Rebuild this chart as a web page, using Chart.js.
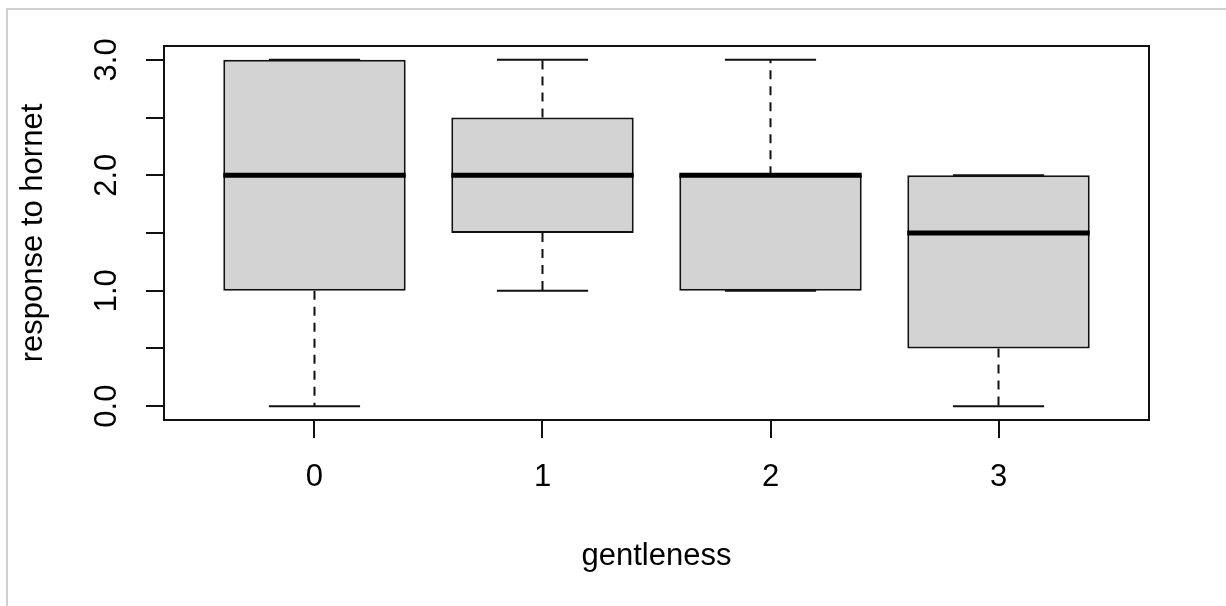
<!DOCTYPE html>
<html>
<head>
<meta charset="utf-8">
<title>response to hornet by gentleness</title>
<script src="https://cdn.jsdelivr.net/npm/chart.js@4.4.1/dist/chart.umd.min.js"></script>
<style>
  html, body { margin: 0; padding: 0; background: #fff; }
  canvas { display: block; }
</style>
</head>
<body>
<canvas id="boxChart" width="1226" height="606"></canvas>
<script>
// boxplot statistics, one entry per gentleness group
const categories = ['0', '1', '2', '3'];
const whiskerLow = [0, 1, 1, 0];
const lowerQuartile = [1, 1.5, 1, 0.5];
const medians = [2, 2, 2, 1.5];
const upperQuartile = [3, 2.5, 2, 2];
const whiskerHigh = [3, 3, 3, 2];

const yTicks = [0, 0.5, 1, 1.5, 2, 2.5, 3];
const yTickLabels = ['0.0', '', '1.0', '', '2.0', '', '3.0'];

(function() {
	'use strict';

	// groups sit at 1..n like R's boxplot, box is 0.8 wide, caps half of that
	const positions = categories.map((c, i) => i + 1);
	const boxHalf = 0.4;
	const capHalf = 0.2;
	const ink = '#111';

	// turn [x1, y1, x2, y2] pairs into one line dataset broken by null points
	function segments(pairs) {
		const pts = [];
		pairs.forEach(p => {
			pts.push({x: p[0], y: p[1]}, {x: p[2], y: p[3]}, {x: p[2], y: null});
		});
		return pts;
	}

	const medianSegs = positions.map((x, i) => [x - boxHalf, medians[i], x + boxHalf, medians[i]]);
	const whiskerSegs = [];
	const capSegs = [];
	positions.forEach((x, i) => {
		whiskerSegs.push([x, lowerQuartile[i], x, whiskerLow[i]]);
		whiskerSegs.push([x, upperQuartile[i], x, whiskerHigh[i]]);
		capSegs.push([x - capHalf, whiskerLow[i], x + capHalf, whiskerLow[i]]);
		capSegs.push([x - capHalf, whiskerHigh[i], x + capHalf, whiskerHigh[i]]);
	});

	const lineBase = {
		type: 'line',
		borderColor: ink,
		borderWidth: 2,
		pointRadius: 0,
		fill: false,
		tension: 0,
		spanGaps: false
	};

	// light frame on the top and left of the picture
	const pageFrame = {
		id: 'pageFrame',
		beforeDraw(chart) {
			const ctx = chart.ctx;
			ctx.save();
			ctx.strokeStyle = '#d0d0d0';
			ctx.lineWidth = 2;
			ctx.beginPath();
			ctx.moveTo(7, chart.height);
			ctx.lineTo(7, 9);
			ctx.lineTo(chart.width, 9);
			ctx.stroke();
			ctx.restore();
		}
	};

	// box round the plot region
	const plotBox = {
		id: 'plotBox',
		afterDatasetsDraw(chart) {
			const a = chart.chartArea;
			const ctx = chart.ctx;
			ctx.save();
			ctx.strokeStyle = ink;
			ctx.lineWidth = 2;
			ctx.strokeRect(a.left, a.top, a.right - a.left, a.bottom - a.top);
			ctx.restore();
		}
	};

	Chart.defaults.font.family = '"Liberation Sans", Arial, sans-serif';
	Chart.defaults.color = '#000';

	const labelFont = {size: 31, lineHeight: 1};

	new Chart(document.getElementById('boxChart'), {
		type: 'bar',
		data: {
			datasets: [
				Object.assign({}, lineBase, {
					label: 'median',
					data: segments(medianSegs),
					borderColor: '#000',
					borderWidth: 5,
					order: 0
				}),
				Object.assign({}, lineBase, {
					label: 'caps',
					data: segments(capSegs),
					order: 1
				}),
				Object.assign({}, lineBase, {
					label: 'whiskers',
					data: segments(whiskerSegs),
					borderDash: [9, 7],
					order: 2
				}),
				{
					type: 'bar',
					label: 'boxes',
					data: positions.map((x, i) => ({x: x, y: [lowerQuartile[i], upperQuartile[i]]})),
					backgroundColor: '#d3d3d3',
					borderColor: ink,
					borderWidth: 2,
					borderSkipped: false,
					categoryPercentage: 1,
					barPercentage: 0.8,
					order: 3
				}
			]
		},
		options: {
			responsive: false,
			animation: false,
			devicePixelRatio: 1,
			layout: {
				padding: {top: 46, right: 77, bottom: 0, left: 0}
			},
			plugins: {
				legend: {display: false},
				tooltip: {enabled: false}
			},
			scales: {
				x: {
					type: 'linear',
					min: 0.34,
					max: 4.66,
					bounds: 'data',
					offset: false,
					afterBuildTicks: function(scale) {
						scale.ticks = positions.map(v => ({value: v}));
					},
					afterFit: function(scale) {
						scale.height = 186;
					},
					ticks: {
						autoSkip: false,
						maxRotation: 0,
						padding: 24,
						font: labelFont,
						callback: function(value, index) {
							return categories[index];
						}
					},
					grid: {
						offset: false,
						drawOnChartArea: false,
						tickLength: 18,
						color: ink,
						lineWidth: 2
					},
					border: {display: false},
					title: {
						display: true,
						text: 'gentleness',
						font: labelFont,
						padding: {top: 0, bottom: 34}
					}
				},
				y: {
					type: 'linear',
					min: -0.12,
					max: 3.12,
					bounds: 'data',
					afterBuildTicks: function(scale) {
						scale.ticks = yTicks.map(v => ({value: v}));
					},
					afterFit: function(scale) {
						scale.width = 164;
					},
					ticks: {
						autoSkip: false,
						minRotation: 90,
						maxRotation: 90,
						crossAlign: 'center',
						padding: 17,
						font: labelFont,
						callback: function(value, index) {
							return yTickLabels[index];
						}
					},
					grid: {
						drawOnChartArea: false,
						tickLength: 18,
						color: ink,
						lineWidth: 2
					},
					border: {display: false},
					title: {
						display: true,
						text: 'response to hornet',
						font: labelFont,
						padding: {top: 18, bottom: 0}
					}
				}
			}
		},
		plugins: [pageFrame, plotBox]
	});
})();
</script>
</body>
</html>
